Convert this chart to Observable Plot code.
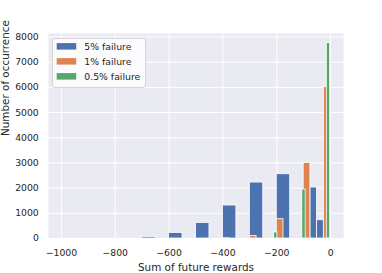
<!DOCTYPE html>
<html><head><meta charset="utf-8">
<script src="https://cdn.jsdelivr.net/npm/d3@7"></script>
<script src="https://cdn.jsdelivr.net/npm/@observablehq/plot@0.6"></script>
<style>html,body{margin:0;padding:0;background:#fff;}</style>
</head><body><div id="chart"></div>
<script>
// Series
const seriesNames = ["5% failure", "1% failure", "0.5% failure"];
const seriesColors = ["#4C72B0", "#DD8452", "#55A868"];

// 5% failure histogram bins (start, end, count)
const blueStart = [-800, -700, -600, -500, -400, -300, -200, -75, -50];
const blueEnd   = [-750, -650, -550, -450, -350, -250, -150, -50, -25];
const blueCount = [6, 60, 222, 620, 1310, 2222, 2552, 2024, 726];

// 1% failure histogram bins
const orangeStart = [-400, -300, -200, -100, -25];
const orangeEnd   = [-375, -275, -175, -75, 0];
const orangeCount = [6, 103, 766, 3000, 6016];

// 0.5% failure histogram bins
const greenStart = [-210, -105, -14];
const greenEnd   = [-197.5, -92.5, -1.5];
const greenCount = [238, 1944, 7762];

// Axis ticks
const xTicks = [-1000, -800, -600, -400, -200, 0];
const yTicks = [0, 1000, 2000, 3000, 4000, 5000, 6000, 7000, 8000];
const xLabel = "Sum of future rewards";
const yLabel = "Number of occurrence";

const bins = [];
[[blueStart, blueEnd, blueCount], [orangeStart, orangeEnd, orangeCount], [greenStart, greenEnd, greenCount]]
  .forEach(([s, e, c], i) => s.forEach((v, j) => bins.push({series: seriesNames[i], x1: v, x2: e[j], count: c[j]})));

const textColor = "#262626";
const fmt = d3.format("d");
const chart = Plot.plot({
  width: 382, height: 273,
  marginLeft: 48, marginRight: 39, marginTop: 33, marginBottom: 35,
  x: {domain: [-1048, 48]},
  y: {domain: [0, 8140]},
  color: {domain: seriesNames, range: seriesColors},
  style: {fontFamily: "DejaVu Sans", fontSize: "9.3px", color: textColor, background: "white"},
  marks: [
    Plot.frame({fill: "#EAEAF2", stroke: null}),
    Plot.gridX({ticks: xTicks, stroke: "white", strokeOpacity: 1, strokeWidth: 1}),
    Plot.gridY({ticks: yTicks, stroke: "white", strokeOpacity: 1, strokeWidth: 1}),
    Plot.rect(bins, {x1: "x1", x2: "x2", y1: 0, y2: "count", fill: "series", stroke: "white", strokeWidth: 0.8}),
    Plot.axisX({ticks: xTicks, tickSize: 0, tickPadding: 11, label: null, tickFormat: fmt, fontSize: 9.3}),
    Plot.axisY({ticks: yTicks, tickSize: 0, tickPadding: 9.7, label: null, tickFormat: fmt, fontSize: 9.3}),
    Plot.text([xLabel], {text: d => d, frameAnchor: "bottom", lineAnchor: "bottom", dy: 32, fontSize: 10.4, fill: textColor}),
    Plot.text([yLabel], {text: d => d, frameAnchor: "left", lineAnchor: "bottom", rotate: -90, dx: -39.7, fontSize: 10.4, fill: textColor})
  ]
});
document.getElementById("chart").appendChild(chart);

// Legend (inside the plot area, upper left)
const svg = d3.select(chart.tagName.toLowerCase() === "svg" ? chart : chart.querySelector("svg"));
const lg = svg.append("g").attr("font-family", "DejaVu Sans").attr("font-size", 9.3).attr("text-anchor", "start");
lg.append("rect").attr("x", 52.5).attr("y", 38.5).attr("width", 93).attr("height", 49)
  .attr("rx", 2.5).attr("fill", "white").attr("fill-opacity", 0.8)
  .attr("stroke", "#cccccc").attr("stroke-width", 0.8);
seriesNames.forEach((name, i) => {
  const cy = 46.3 + i * 15;
  lg.append("rect").attr("x", 56.7).attr("y", cy - 3.2).attr("width", 19.5).attr("height", 6.5).attr("fill", seriesColors[i]);
  lg.append("text").attr("x", 84.3).attr("y", cy).attr("dy", "0.35em").attr("fill", textColor).text(name);
});
</script>
</body></html>
